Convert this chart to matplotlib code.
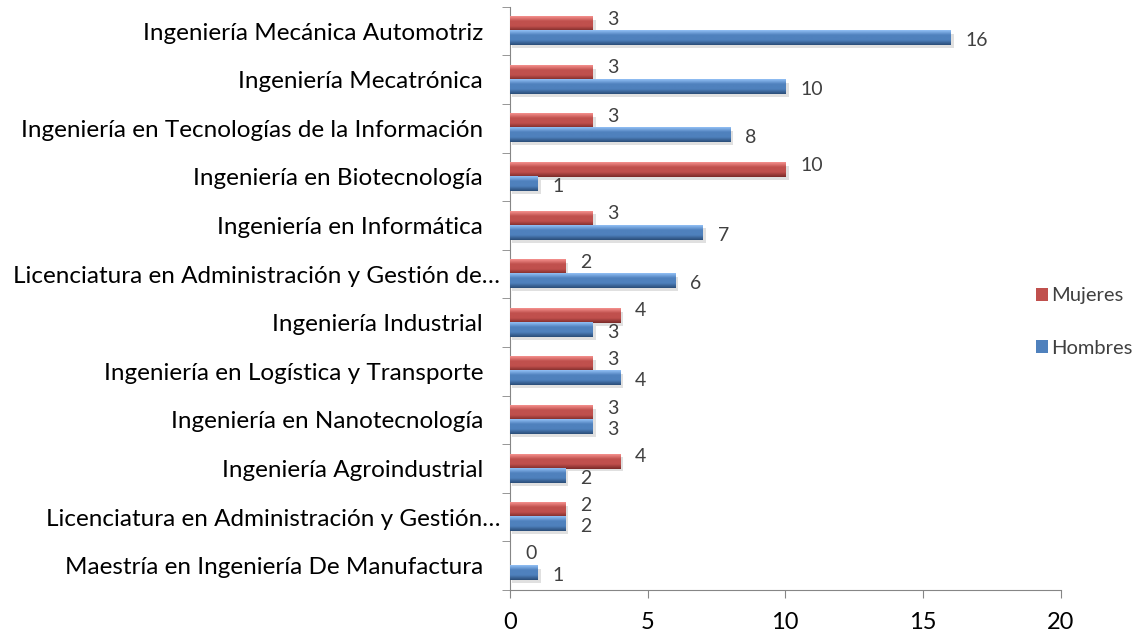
import numpy as np
import matplotlib.pyplot as plt
import matplotlib.transforms as mtransforms
from matplotlib.colors import LinearSegmentedColormap

# Data (top to bottom as shown in the chart)
carreras = [
    "Ingeniería Mecánica Automotriz",
    "Ingeniería Mecatrónica",
    "Ingeniería en Tecnologías de la Información",
    "Ingeniería en Biotecnología",
    "Ingeniería en Informática",
    "Licenciatura en Administración y Gestión de…",
    "Ingeniería Industrial",
    "Ingeniería en Logística y Transporte",
    "Ingeniería en Nanotecnología",
    "Ingeniería Agroindustrial",
    "Licenciatura en Administración y Gestión…",
    "Maestría en Ingeniería De Manufactura",
]
mujeres = [3, 3, 3, 10, 3, 2, 4, 3, 3, 4, 2, 0]
hombres = [16, 10, 8, 1, 7, 6, 3, 4, 3, 2, 2, 1]

RED = "#C0504D"
BLUE = "#4F81BD"
AXIS_GRAY = "#868686"
TXT = "#404040"

plt.rcParams['font.family'] = ['Lato', 'DejaVu Sans']

fig = plt.figure(figsize=(11.38, 6.38), dpi=100)
ax = fig.add_axes([0.448, 0.0752, 0.484, 0.914])

n = len(carreras)
y = np.arange(n)[::-1]
h = 0.29

bars_m = ax.barh(y + h / 2, mujeres, height=h, color=RED, zorder=2, label="Mujeres")
bars_h = ax.barh(y - h / 2, hombres, height=h, color=BLUE, zorder=2, label="Hombres")

# bevel-like vertical gradient over each bar
def shade(bars, light, mid, dark):
    cmap = LinearSegmentedColormap.from_list("b", [light, mid, mid, dark])
    grad = np.linspace(0, 1, 64).reshape(-1, 1)
    for b in bars:
        w = b.get_width()
        if w <= 0:
            continue
        y0 = b.get_y()
        # soft shadow
        ax.add_patch(plt.Rectangle((0.08, y0 - 0.06), w + 0.04, b.get_height(),
                                   color="#000000", alpha=0.12, lw=0, zorder=1))
        ax.imshow(grad, cmap=cmap, aspect="auto", origin="upper",
                  extent=(0, w, y0, y0 + b.get_height()), zorder=3)

shade(bars_m, "#F5918E", "#C0504D", "#7A2A28")
shade(bars_h, "#92C0F5", "#4F81BD", "#2A4D78")

for b, v in zip(bars_m, mujeres):
    ax.text(v + 0.55, b.get_y() + b.get_height() / 2 + 0.1, str(v),
            fontsize=14, color=TXT, va="center", ha="left", zorder=4)
for b, v in zip(bars_h, hombres):
    ax.text(v + 0.55, b.get_y() + b.get_height() / 2 - 0.05, str(v),
            fontsize=14, color=TXT, va="center", ha="left", zorder=4)

ax.set_xlim(0, 20)
ax.set_ylim(-0.5, n - 0.5)
ax.set_xticks([0, 5, 10, 15, 20])
ax.set_yticks(y)
ax.set_yticklabels(carreras, fontsize=17.5, color="black")
ax.set_yticks(np.arange(n + 1) - 0.5, minor=True)
ax.tick_params(axis="y", which="major", length=0, pad=7)
ax.tick_params(axis="y", which="minor", length=6, color=AXIS_GRAY, direction="out")
ax.tick_params(axis="x", length=6, color=AXIS_GRAY, labelsize=17, pad=10)

# full-length labels sit a bit further from the axis than the truncated ones
shift = mtransforms.ScaledTranslation(-17 / 100, 0, fig.dpi_scale_trans)
for lbl in ax.get_yticklabels():
    if not lbl.get_text().endswith("…"):
        lbl.set_transform(lbl.get_transform() + shift)

for s in ["top", "right"]:
    ax.spines[s].set_visible(False)
for s in ["left", "bottom"]:
    ax.spines[s].set_color(AXIS_GRAY)

leg = fig.legend(handles=[bars_m, bars_h], loc="center left",
                 bbox_to_anchor=(1026 / 1138, 1 - 322 / 638), frameon=False,
                 fontsize=14.5, handlelength=0.6, handleheight=0.6,
                 handletextpad=0.15, labelspacing=1.75, borderpad=0)
for t in leg.get_texts():
    t.set_color(TXT)

fig.savefig("out.png", dpi=100)
